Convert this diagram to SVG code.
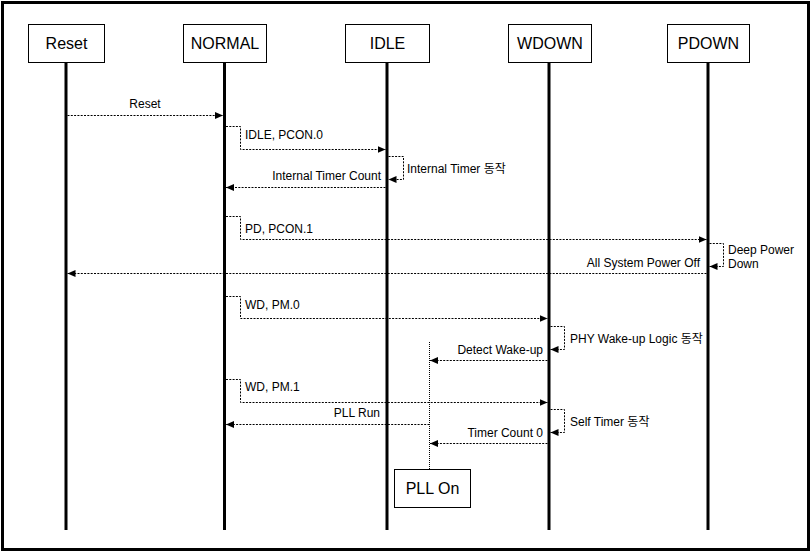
<svg xmlns="http://www.w3.org/2000/svg" width="812" height="553" viewBox="0 0 812 553">
<defs>
<style>
text{font-family:"Liberation Sans","Noto Sans CJK KR",Arial,sans-serif;fill:#000}
.nl{font-size:16px;text-anchor:middle}
.ml{font-size:12px}
.box{fill:#fff;stroke:#000;stroke-width:1}
.life{stroke:#000;stroke-width:3}
.msg{fill:none;stroke:#000;stroke-width:1;stroke-dasharray:2,1.3}
.arr{marker-end:url(#ah)}
</style>
<marker id="ah" markerUnits="userSpaceOnUse" markerWidth="9" markerHeight="8" refX="8" refY="3.5" orient="auto">
<path d="M0,0 L8,3.5 L0,7 z" fill="#000"/>
</marker>
</defs>
<rect x="0" y="0" width="812" height="553" fill="#fff"/>
<rect x="2.5" y="2.5" width="806" height="547" fill="none" stroke="#000" stroke-width="3"/>

<g id="lifelines">
<line class="life" x1="66" y1="62" x2="66" y2="530"/>
<line class="life" x1="224.5" y1="62" x2="224.5" y2="530"/>
<line class="life" x1="387" y1="62" x2="387" y2="530"/>
<line class="life" x1="549" y1="62" x2="549" y2="530"/>
<line class="life" x1="708" y1="62" x2="708" y2="530"/>
</g>

<g id="node-reset"><rect class="box" x="28.5" y="24.5" width="76" height="38"/><text class="nl" x="66.5" y="49">Reset</text></g>
<g id="node-normal"><rect class="box" x="183.5" y="24.5" width="83" height="38"/><text class="nl" x="225" y="49">NORMAL</text></g>
<g id="node-idle"><rect class="box" x="345.5" y="24.5" width="84" height="38"/><text class="nl" x="387.5" y="49">IDLE</text></g>
<g id="node-wdown"><rect class="box" x="508.5" y="24.5" width="83" height="38"/><text class="nl" x="550" y="49">WDOWN</text></g>
<g id="node-pdown"><rect class="box" x="667.5" y="24.5" width="82" height="38"/><text class="nl" x="708.5" y="49">PDOWN</text></g>
<g id="node-pllon"><line x1="429.5" y1="342" x2="429.5" y2="469" stroke="#000" stroke-width="1" stroke-dasharray="1,1"/><rect class="box" x="394.5" y="469.5" width="76" height="38"/><text class="nl" x="432.5" y="494">PLL On</text></g>

<g id="connectors">
<path class="msg arr" d="M67.5,115.5 H223"/>
<path class="msg arr" d="M226,126.5 H240.5 V149.5 H385.5"/>
<path class="msg arr" d="M388.5,156.5 H403.5 V179.5 H388.5"/>
<path class="msg arr" d="M385.5,187.5 H226"/>
<path class="msg arr" d="M226,216.5 H240.5 V239.5 H706.5"/>
<path class="msg arr" d="M709.5,243.5 H723.5 V266.5 H709.5"/>
<path class="msg arr" d="M706.5,273.5 H67.5"/>
<path class="msg arr" d="M226,296.5 H240.5 V318.5 H547.5"/>
<path class="msg arr" d="M550.5,326.5 H564.5 V349.5 H550.5"/>
<path class="msg arr" d="M547.5,360.5 H430"/>
<path class="msg arr" d="M226,379.5 H240.5 V402.5 H547.5"/>
<path class="msg arr" d="M550.5,409.5 H564.5 V432.5 H550.5"/>
<path class="msg arr" d="M429.5,424.5 H226"/>
<path class="msg arr" d="M547.5,443.5 H430"/>
</g>

<g id="labels">
<text class="ml" x="145" y="108" text-anchor="middle">Reset</text>
<text class="ml" x="245" y="139">IDLE, PCON.0</text>
<text class="ml" x="407" y="173">Internal Timer 동작</text>
<text class="ml" x="381" y="180" text-anchor="end">Internal Timer Count</text>
<text class="ml" x="245" y="233">PD, PCON.1</text>
<text class="ml" x="728" y="254">Deep Power</text>
<text class="ml" x="728" y="268">Down</text>
<text class="ml" x="700" y="267" text-anchor="end">All System Power Off</text>
<text class="ml" x="245" y="309">WD, PM.0</text>
<text class="ml" x="570" y="343">PHY Wake-up Logic 동작</text>
<text class="ml" x="543" y="354" text-anchor="end">Detect Wake-up</text>
<text class="ml" x="245" y="391">WD, PM.1</text>
<text class="ml" x="380" y="417" text-anchor="end">PLL Run</text>
<text class="ml" x="570" y="426">Self Timer 동작</text>
<text class="ml" x="543" y="437" text-anchor="end">Timer Count 0</text>
</g>
</svg>
